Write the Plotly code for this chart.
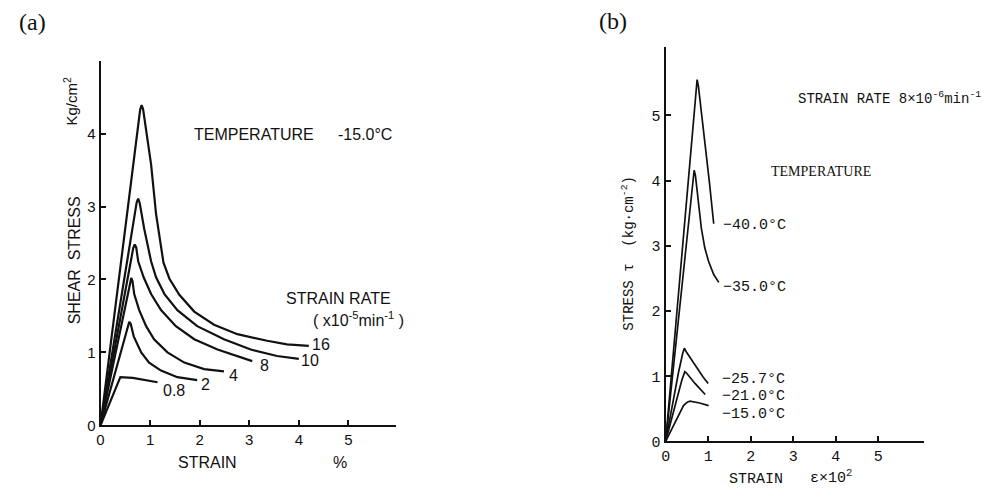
import plotly.graph_objects as go

# ---------------- data: panel (a) shear stress vs strain, T = -15.0 C ----------------
a_rate_labels = ["16", "10", "8", "4", "2", "0.8"]
a16_x = [0, 0.80, 0.83, 0.86, 1.02, 1.12, 1.27, 1.39, 1.59, 1.89, 2.29, 2.76, 3.36, 3.76, 4.20]
a16_y = [0, 4.33, 4.39, 4.33, 3.58, 2.90, 2.23, 2.01, 1.79, 1.56, 1.38, 1.25, 1.16, 1.11, 1.09]
a10_x = [0, 0.73, 0.76, 0.79, 0.88, 1.02, 1.12, 1.29, 1.55, 1.95, 2.49, 3.03, 3.56, 4.00]
a10_y = [0, 3.06, 3.11, 3.05, 2.70, 2.25, 2.03, 1.80, 1.58, 1.36, 1.18, 1.04, 0.95, 0.91]
a8_x = [0, 0.66, 0.69, 0.72, 0.76, 0.87, 1.02, 1.22, 1.52, 1.89, 2.36, 2.76, 3.06]
a8_y = [0, 2.43, 2.48, 2.44, 2.25, 2.03, 1.80, 1.58, 1.36, 1.18, 1.04, 0.95, 0.88]
a4_x = [0, 0.60, 0.62, 0.645, 0.68, 0.78, 0.92, 1.08, 1.35, 1.69, 2.09, 2.49]
a4_y = [0, 1.98, 2.02, 1.98, 1.80, 1.58, 1.36, 1.18, 1.00, 0.86, 0.77, 0.74]
a2_x = [0, 0.56, 0.58, 0.61, 0.67, 0.82, 0.98, 1.22, 1.55, 1.95]
a2_y = [0, 1.38, 1.42, 1.39, 1.22, 1.00, 0.86, 0.75, 0.66, 0.62]
a08_x = [0, 0.40, 0.65, 1.15]
a08_y = [0, 0.66, 0.65, 0.59]
a_ticks_x = [0, 1, 2, 3, 4, 5]
a_ticks_y = [0, 1, 2, 3, 4]

# ---------------- data: panel (b) stress vs strain, strain rate 8e-6 /min ----------------
b_temp_labels = ["−40.0°C", "−35.0°C", "−25.7°C", "−21.0°C", "−15.0°C"]
b40_x = [0, 0.71, 0.74, 0.77, 0.83, 0.94, 1.03, 1.13]
b40_y = [0, 5.45, 5.55, 5.45, 5.12, 4.52, 3.97, 3.34]
b35_x = [0, 0.65, 0.67, 0.70, 0.75, 0.84, 0.92, 1.01, 1.13, 1.25]
b35_y = [0, 4.08, 4.16, 4.08, 3.77, 3.27, 2.97, 2.76, 2.56, 2.44]
b257_x = [0, 0.15, 0.30, 0.40, 0.44, 0.48, 0.69, 0.88, 1.00]
b257_y = [0, 0.55, 1.05, 1.35, 1.43, 1.38, 1.17, 0.99, 0.89]
b21_x = [0, 0.20, 0.38, 0.45, 0.49, 0.69, 0.93]
b21_y = [0, 0.50, 0.94, 1.07, 1.05, 0.89, 0.72]
b15_x = [0, 0.42, 0.50, 0.57, 0.80, 1.01]
b15_y = [0, 0.55, 0.60, 0.62, 0.59, 0.55]
b_ticks_x = [0, 1, 2, 3, 4, 5]
b_ticks_y = [0, 1, 2, 3, 4, 5]

W, H = 987, 499
INK = "#111111"
SANS = "Liberation Sans, Arial, sans-serif"
MONO = "Liberation Mono, DejaVu Sans Mono, monospace"
SERIF = "Liberation Serif, Times New Roman, serif"


def P(px, py):
    return px / W, 1 - py / H


fig = go.Figure()

for xs, ys in [(a16_x, a16_y), (a10_x, a10_y), (a8_x, a8_y), (a4_x, a4_y), (a2_x, a2_y), (a08_x, a08_y)]:
    fig.add_trace(go.Scatter(x=xs, y=ys, mode="lines", xaxis="x", yaxis="y",
                             line=dict(color=INK, width=2.2), showlegend=False, hoverinfo="skip"))

for xs, ys in [(b40_x, b40_y), (b35_x, b35_y), (b257_x, b257_y), (b21_x, b21_y), (b15_x, b15_y)]:
    fig.add_trace(go.Scatter(x=xs, y=ys, mode="lines", xaxis="x2", yaxis="y2",
                             line=dict(color=INK, width=1.7), showlegend=False, hoverinfo="skip"))

ax_common = dict(showline=True, linecolor=INK, showgrid=False, zeroline=False,
                 ticks="inside", ticklen=5, tickwidth=1.5, tickcolor=INK, fixedrange=True)

fig.update_layout(
    width=W, height=H,
    margin=dict(l=0, r=0, t=0, b=0),
    paper_bgcolor="white", plot_bgcolor="white",
    xaxis=dict(domain=[96 / W, 393 / W], range=[0, 5.96], anchor="y", tickvals=a_ticks_x,
               linewidth=2, tickfont=dict(family=SANS, size=15, color=INK), **ax_common),
    yaxis=dict(domain=[(H - 434) / H, (H - 62) / H], range=[0, 5.0], anchor="x", tickvals=a_ticks_y,
               linewidth=2, tickfont=dict(family=SANS, size=15, color=INK), **ax_common),
    xaxis2=dict(domain=[664 / W, 924 / W], range=[0, 6.08], anchor="y2", tickvals=b_ticks_x,
                linewidth=2, tickfont=dict(family=MONO, size=15, color=INK), **ax_common),
    yaxis2=dict(domain=[(H - 450.5) / H, (H - 48) / H], range=[0, 6.05], anchor="x2", tickvals=b_ticks_y,
                linewidth=2, tickfont=dict(family=MONO, size=15, color=INK), **ax_common),
)

ann = []


def add_text(text, px, py, font, size, xanchor="center", yanchor="middle", angle=0):
    x, y = P(px, py)
    ann.append(dict(text=text, x=x, y=y, xref="paper", yref="paper", showarrow=False,
                    xanchor=xanchor, yanchor=yanchor, textangle=angle,
                    font=dict(family=font, size=size, color=INK)))


# panel letters
add_text("(a)", 28, 22, SERIF, 24)
add_text("(b)", 611, 21, SERIF, 24)

# panel (a) texts
add_text("Kg/cm<sup>2</sup>", 66, 103, SANS, 15, angle=-90)
add_text("SHEAR  STRESS", 70, 266, SANS, 16, angle=-90)
add_text("STRAIN", 204, 472, SANS, 16)
add_text("%", 337, 472, SANS, 16)
add_text("TEMPERATURE", 250, 137, SANS, 16)
add_text("-15.0°C", 362, 137, SANS, 16)
add_text("STRAIN RATE", 335, 305, SANS, 16)
add_text("( x10<sup>-5</sup>min<sup>-1</sup> )", 355, 326, SANS, 16)
a_label_pos = [(318, 352), (307, 368), (261, 373), (230, 383), (202, 392), (170, 398)]
for lab, (px, py) in zip(a_rate_labels, a_label_pos):
    add_text(lab, px, py, SANS, 16)

# panel (b) texts
add_text("STRAIN RATE 8×10<sup>-6</sup>min<sup>-1</sup>", 795, 100, MONO, 14, xanchor="left")
add_text("TEMPERATURE", 768, 175, SERIF, 14, xanchor="left")
add_text("STRESS τ  (kg·cm<sup>-2</sup>)", 626, 258, MONO, 14, angle=-90)
add_text("STRAIN", 755, 489, MONO, 15)
add_text("ε×10<sup>2</sup>", 830, 487, MONO, 15)
b_label_pos = [(720, 230), (720, 293), (719, 387), (719, 405), (719, 423)]
for lab, (px, py) in zip(b_temp_labels, b_label_pos):
    add_text(lab, px, py, MONO, 15, xanchor="left")

fig.update_layout(annotations=ann)

post = "document.body.style.margin='0';document.body.style.overflow='hidden';"
fig.write_html("out.html", config={"displayModeBar": False}, post_script=post)
